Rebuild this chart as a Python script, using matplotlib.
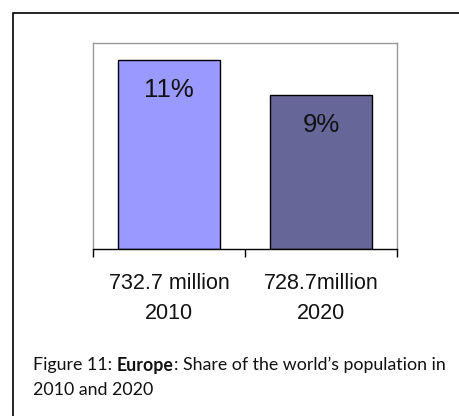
import matplotlib
matplotlib.use("Agg")
import matplotlib.pyplot as plt
from matplotlib.patches import Rectangle

years = ["2010", "2020"]
populations = ["732.7 million", "728.7million"]
shares = [11, 9]
bar_colors = ["#9999FF", "#666699"]

cap_font = "Lato"
plt.rcParams["font.family"] = ["Liberation Sans", "DejaVu Sans"]

fig = plt.figure(figsize=(4.59, 4.16), dpi=100)
fig.patch.set_facecolor("white")

# outer frame, only top and left edges show
fig.add_artist(Rectangle((13 / 459, -0.1), 1.2, 1 - 13 / 416 + 0.1,
                         transform=fig.transFigure, fill=False,
                         edgecolor="black", linewidth=1.2))

ax = fig.add_axes([93 / 459, 167 / 416, 304 / 459, 206 / 416])
x = list(range(len(years)))
ax.bar(x, shares, width=0.665, color=bar_colors, edgecolor="black", linewidth=1)
for xi, v in zip(x, shares):
    ax.text(xi, v - 1.75, f"{v}%", ha="center", va="center", fontsize=18.5, color="#111111")

ax.set_xlim(-0.5, 1.5)
ax.set_ylim(0, 12)
ax.set_yticks([])
ax.set_xticks(x, [f"{p}\n{y}" for p, y in zip(populations, years)])
ax.set_xticks([-0.5, 0.5, 1.5], minor=True)
ax.tick_params(axis="x", which="major", length=0, pad=17, labelsize=15.5,
               labelcolor="#111111")
ax.tick_params(axis="x", which="minor", length=6, width=1, direction="out", color="black")
for lbl in ax.get_xticklabels():
    lbl.set_linespacing(1.6)
for s in ["top", "right", "left"]:
    ax.spines[s].set_color("#999999")
    ax.spines[s].set_linewidth(1)
ax.spines["bottom"].set_color("black")
ax.spines["bottom"].set_linewidth(1)

# caption with bold region name
renderer = fig.canvas.get_renderer()
parts = [("Figure 11: ", "normal"), ("Europe", "bold"),
         (": Share of the world\u2019s population in", "normal")]
cap_size = 12.8
xpos = 33 / 459
ypos = 1 - 365 / 416
for txt, wt in parts:
    t = fig.text(xpos, ypos, txt, fontsize=cap_size, fontweight=wt, family=cap_font,
                 va="center", ha="left", color="#111111")
    bb = t.get_window_extent(renderer)
    xpos += bb.width / fig.bbox.width
fig.text(33 / 459, 1 - 390 / 416, "2010 and 2020", fontsize=cap_size, family=cap_font,
         va="center", ha="left", color="#111111")

fig.savefig("out.png", dpi=100)
